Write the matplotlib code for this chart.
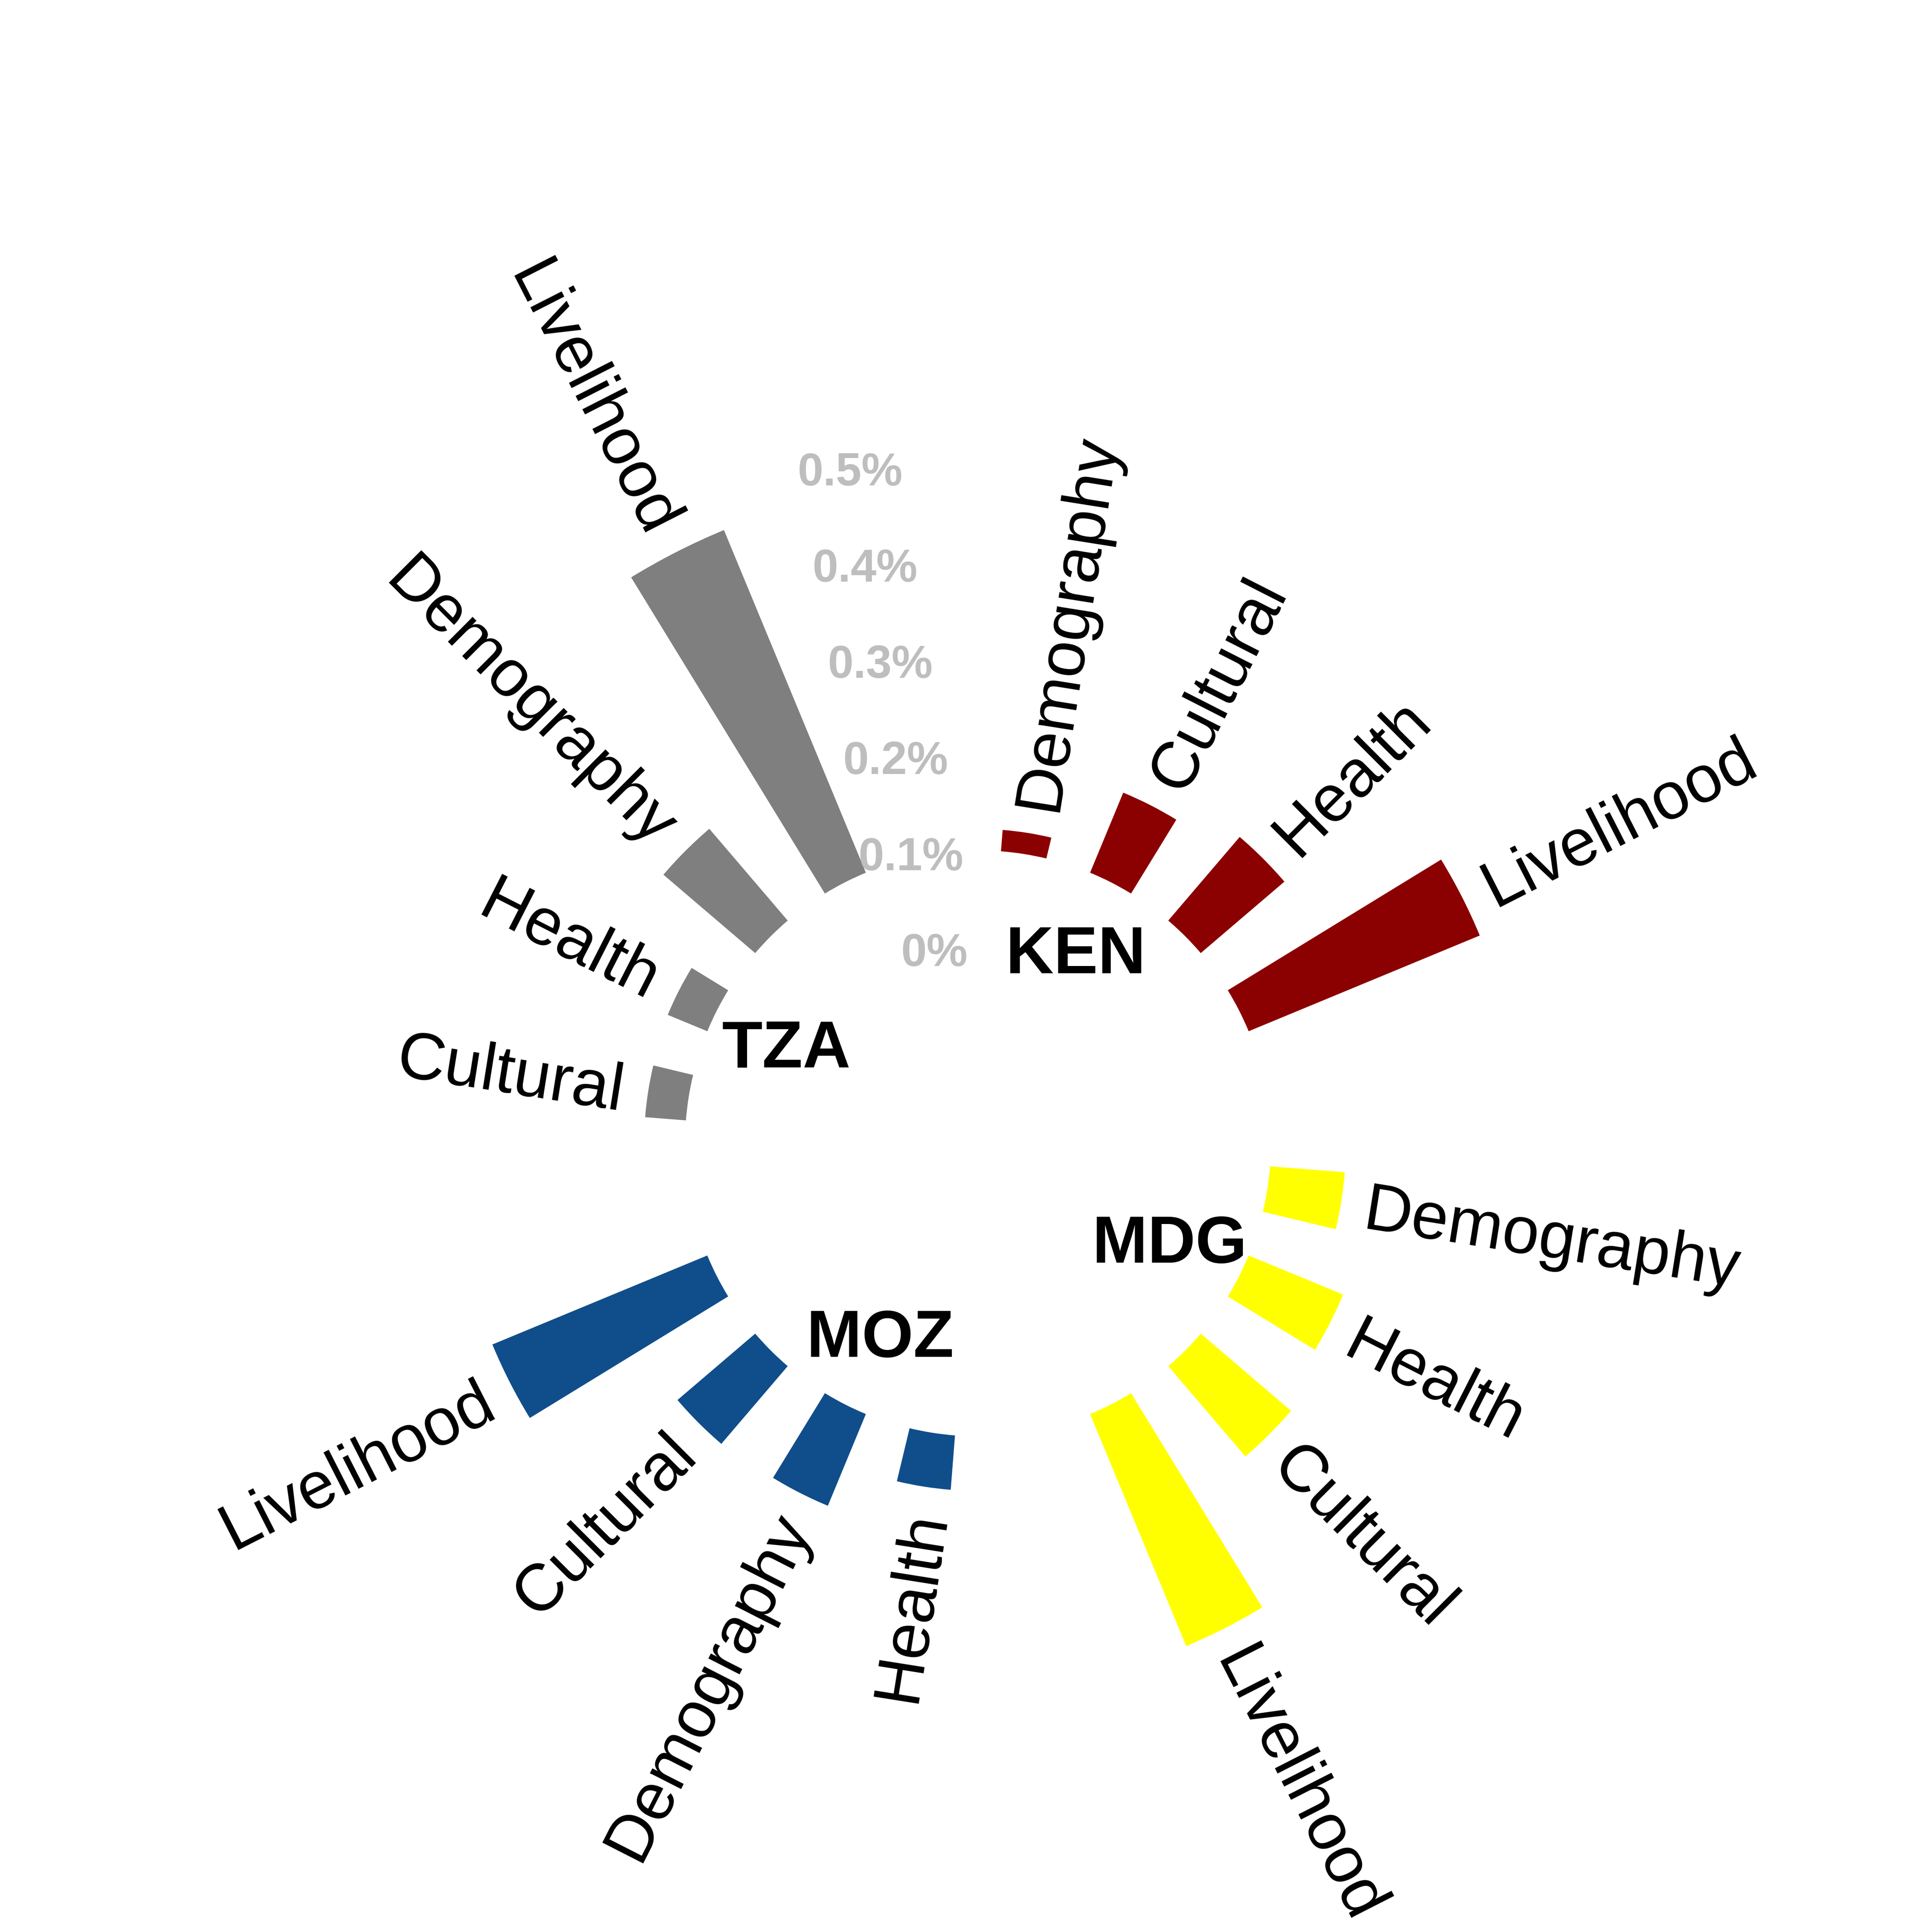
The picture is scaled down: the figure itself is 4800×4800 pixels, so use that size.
import numpy as np
import matplotlib.pyplot as plt

groups = ["KEN", "MDG", "MOZ", "TZA"]
group_colors = ["#8B0000", "#FFFF00", "#104E8B", "#7F7F7F"]

ken_labels = ["Demography", "Cultural", "Health", "Livelihood"]
ken_values = [0.127, 0.194, 0.218, 0.362]
mdg_labels = ["Demography", "Health", "Cultural", "Livelihood"]
mdg_values = [0.182, 0.210, 0.227, 0.363]
moz_labels = ["Health", "Demography", "Cultural", "Livelihood"]
moz_values = [0.161, 0.207, 0.210, 0.344]
tza_labels = ["Cultural", "Health", "Demography", "Livelihood"]
tza_values = [0.147, 0.149, 0.229, 0.486]

tick_values = [0, 0.1, 0.2, 0.3, 0.4, 0.5]
tick_labels = ["0%", "0.1%", "0.2%", "0.3%", "0.4%", "0.5%"]

all_labels = [ken_labels, mdg_labels, moz_labels, tza_labels]
all_values = [ken_values, mdg_values, moz_values, tza_values]

plt.rcParams["font.family"] = ["Liberation Sans", "DejaVu Sans"]

n_per_group = 5          # 4 bars + 1 empty slot
n_slots = n_per_group * len(groups)
slot = 2 * np.pi / n_slots
base = 0.105
r_min = -0.196
r_max = 0.8
label_pad = 0.025

fig = plt.figure(figsize=(16, 16), dpi=300)
fig.patch.set_facecolor("white")
cx, cy = 0.5062, 0.4082
half = (r_max - r_min) * 0.5038
ax = fig.add_axes([cx - half, cy - half, 2 * half, 2 * half], projection="polar")
ax.set_theta_zero_location("N")
ax.set_theta_direction(-1)
ax.set_ylim(r_min, r_max)
ax.axis("off")

for g, (name, col) in enumerate(zip(groups, group_colors)):
    labs = all_labels[g]
    vals = all_values[g]
    ids = np.arange(len(vals)) + g * n_per_group
    theta = (ids + 0.5) * slot
    heights = np.array(vals) - base
    ax.bar(theta, heights, width=slot * 0.5, bottom=base, color=col, linewidth=0)

    for th, v, lab in zip(theta, vals, labs):
        deg = np.degrees(th)
        if deg < 180:
            rot, ha = 90 - deg, "left"
        else:
            rot, ha = 270 - deg, "right"
        ax.text(th, v + label_pad, lab, rotation=rot, rotation_mode="anchor",
                ha=ha, va="center_baseline", fontsize=39.5, color="black")

    # group name sits next to the second bar, close to the hole
    ax.annotate(name, ((ids[1] + 0.5) * slot, 0.025), xytext=(0, 1.5),
                textcoords="offset points", ha="center", va="center_baseline",
                fontsize=39.5, fontweight="bold", color="black")

# scale labels in the empty slot before the first group
theta_tick = (n_slots - 0.5) * slot
renderer = fig.canvas.get_renderer()
for v, lab in zip(tick_values, tick_labels):
    t = ax.annotate(lab, (theta_tick, v), xytext=(0, 0), textcoords="offset points",
                    ha="center", va="center", fontsize=27.5, fontweight="bold",
                    color="#BEBEBE")
    w = t.get_window_extent(renderer).width * 72 / fig.dpi
    t.xyann = (-0.21 * w, 0.5)

fig.savefig("out.png", dpi=300, facecolor="white")
